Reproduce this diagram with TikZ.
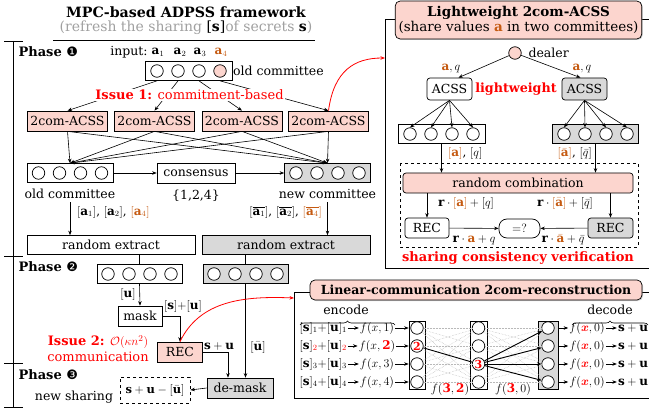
\documentclass[tikz,border=0pt]{standalone}
\usepackage{amsmath,amssymb,bm}
\usepackage{fontspec}
\setmainfont{DejaVu Serif}
\newfontfamily\djv{DejaVu Sans}
\usetikzlibrary{arrows.meta,calc,decorations.pathreplacing,shadows}
\definecolor{pk}{HTML}{FCD5CE}
\definecolor{gr}{HTML}{D9D9D9}
\definecolor{og}{HTML}{C55A11}
\definecolor{rd}{HTML}{FF0000}
\definecolor{tg}{HTML}{A0A0A0}
\newcommand\fsz[1]{\fontsize{#1}{#1}\selectfont}
\newcommand\mkcmt[6]{%
  \node[cbox, fill=#5, minimum width=#4] (#1) at (#2,#3) {};
  \foreach \k/\o in {1/-31.5,2/-10.5,3/10.5}{\node[cc] (#1c\k) at ($(#1.center)+(\o,0)$) {};}
  \node[cc, fill=#6] (#1c4) at ($(#1.center)+(31.5,0)$) {};
}
\tikzset{
 cbox/.style={draw, line width=0.7pt, rectangle, inner sep=0pt, minimum height=19pt},
 cc/.style={draw, circle, line width=0.7pt, minimum size=12.5pt, inner sep=0pt, fill=white},
 wbox/.style={draw, line width=0.7pt, fill=white, minimum height=20pt, inner sep=1pt},
 pbox/.style={wbox, fill=pk},
 gbox/.style={wbox, fill=gr},
 rbox/.style={wbox, rounded corners=3pt},
 arr/.style={-{Stealth[length=4.5pt,width=3.5pt]}, line width=0.6pt},
 redarr/.style={arr, draw=rd, line width=0.8pt},
 lab/.style={font=\fsz{12}, inner sep=1pt},
 phase/.style={anchor=west, font=\bfseries\fsz{13}},
 ttl/.style={draw, line width=0.7pt, fill=pk, rounded corners=5pt, drop shadow={shadow xshift=1pt, shadow yshift=-1pt, opacity=0.35}},
}
\begin{document}
\begin{tikzpicture}[x=1pt,y=-1pt,font=\fsz{12.5}]
\path[use as bounding box] (0,0) rectangle (649,412);
\clip (0,0) rectangle (649,412);
% ---------- left part ----------
\node[font=\bfseries\fsz{14.2}] (title) at (186,12) {MPC-based ADPSS framework};
\node[font=\fsz{14}] (subt) at (186,28) {{\color{tg}(refresh the sharing }[\textbf{s}]{\color{tg} of secrets }\textbf{s}{\color{tg})}};
\draw[line width=0.7pt] (53,40) -- (315,40);
\draw[line width=0.7pt] (13,41) -- (13,407);
\foreach \yy in {41,256,363,407} \draw[line width=0.7pt] (4,\yy) -- (23,\yy);
\node[phase] (ph1) at (15,52) {Phase {\normalfont\djv ❶}};
\node[phase] (ph2) at (15,267) {Phase {\normalfont\djv ❷}};
\node[phase] (ph3) at (15,375) {Phase {\normalfont\djv ❸}};
% input
\node (inp) at (129,52) {input:};
\node[lab] (a1) at (158,52) {$\mathbf{a}_1$};
\node[lab] (a2) at (180,52) {$\mathbf{a}_2$};
\node[lab] (a3) at (200,52) {$\mathbf{a}_3$};
\node[lab,text=og] (a4) at (221,52) {$\mathbf{a}_4$};
\mkcmt{otop}{188.5}{71}{87pt}{white}{pk}
\node[anchor=west, inner sep=1pt] (otoplab) at (232,71) {old committee};
% 2com-ACSS boxes
\node[pbox, minimum width=80pt] (b1) at (67.5,121) {2com-ACSS};
\node[pbox, minimum width=80pt] (b2) at (154.5,121) {2com-ACSS};
\node[pbox, minimum width=80pt] (b3) at (242,121) {2com-ACSS};
\node[pbox, minimum width=80pt] (b4) at (328.5,121) {2com-ACSS};
\foreach \i in {1,2,3,4} \draw[arr] (otop.south -| otopc\i) -- (b\i.north);
\node[fill=white, inner sep=1pt, text=rd, font=\fsz{13}] (iss1) at (189.5,95) {\textbf{Issue 1:} commitment-based};
% second row
\mkcmt{old}{70}{173}{86pt}{white}{white}
\mkcmt{new}{327.5}{173}{86pt}{gr}{white}
\node[wbox, minimum width=78pt] (cons) at (196,173) {consensus};
\foreach \i in {1,2,3,4} {\draw[arr] (b\i.south) -- (old.north); \draw[arr] (b\i.south) -- (new.north);}
\draw[arr] (old) -- (cons);
\draw[arr] (cons) -- (new);
\node (oldlab) at (70,194) {old committee};
\node (newlab) at (327.5,194) {new committee};
\node (set) at (196,196) {\{1,2,4\}};
% random extract
\node[wbox, minimum width=168pt, minimum height=19pt] (rex1) at (111,245) {random extract};
\node[gbox, minimum width=168pt, minimum height=19pt] (rex2) at (286,245) {random extract};
\draw[arr] (oldlab.south) -- (rex1.north -| oldlab);
\draw[arr] (newlab.south) -- (rex2.north -| newlab);
\node[lab, anchor=west] (la1) at (76,212) {$[\mathbf{a}_1]$, $[\mathbf{a}_2]$, \textcolor{og}{$[\mathbf{a}_4]$}};
\node[lab, anchor=east] (la2) at (323,212) {$[\overline{\mathbf{a}_1}]$, $[\overline{\mathbf{a}_2}]$, \textcolor{og}{$[\overline{\mathbf{a}_4}]$}};
% phase 2
\mkcmt{pl}{139.5}{274}{85pt}{white}{white}
\mkcmt{pr}{245.5}{274}{85pt}{gr}{white}
\draw[line width=0.6pt] (rex1.south -| pl) -- (pl.north);
\draw[line width=0.6pt] (rex2.south -| pr) -- (pr.north);
\node[wbox, minimum width=44pt] (mask) at (140,316) {mask};
\draw[arr] (pl.south) -- (mask.north);
\node[lab] (ul) at (128,294) {$[\mathbf{u}]$};
\node[pbox, minimum width=45pt] (rec) at (180,352) {REC};
\draw[arr] (mask.east) -| (rec.north);
\node[lab] (sul) at (183,306) {$[\mathbf{s}]{+}[\mathbf{u}]$};
\node[text=rd, align=center, font=\fsz{13}] (iss2) at (98,349) {\textbf{Issue 2:} $\mathcal{O}(\kappa n^2)$\\[3pt]communication};
\node[gbox, minimum width=66pt] (dm) at (240,388) {de-mask};
\draw[arr] (rec.east) -| ($(dm.north west)!0.32!(dm.north east)$);
\node[lab] (supu) at (219,346) {$\mathbf{s}+\mathbf{u}$};
\draw[arr] (pr.south) -- (dm.north -| pr);
\node[lab] (ubar) at (258,347) {$[\bar{\mathbf{u}}]$};
\node[draw, dashed, line width=0.7pt, minimum width=70pt, minimum height=26pt, font=\fsz{11.5}, inner sep=1pt] (ns) at (155,390) {$\mathbf{s}+\mathbf{u}-[\bar{\mathbf{u}}]$};
\draw[arr] (dm.west) -- (ns.east);
\node (nslab) at (74,397) {new sharing};
% ---------- top-right panel ----------
\draw[line width=0.7pt] (385,19) rectangle (660,268);
\coordinate (lwin) at (385,58);
\node[ttl, minimum width=243pt, minimum height=38pt, align=center, font=\fsz{13.5}] (lwt) at (518.5,20) {\textbf{Lightweight 2com-ACSS}\\[2pt](share values \textcolor{og}{\textbf{a}} in two committees)};
\draw[redarr] (b4.north) .. controls (334,70) and (355,58) .. (lwin);
\node[cc, fill=pk] (dealer) at (515,53) {};
\node[anchor=west] (dlab) at (525,53) {dealer};
\node[rbox, minimum width=45pt, minimum height=22pt] (acl) at (449.5,89) {ACSS};
\node[rbox, fill=gr, minimum width=45pt, minimum height=22pt] (acr) at (584.5,89) {ACSS};
\draw[arr] (dealer) -- ($(acl.north)+(9,0)$);
\draw[arr] (dealer) -- ($(acr.north)+(-4,0)$);
\node[lab] (aq1) at (451,68) {$\textcolor{og}{\mathbf{a}},q$};
\node[lab] (aq2) at (582,68) {$\textcolor{og}{\mathbf{a}},q$};
\node[text=rd, font=\bfseries\fsz{12.7}] (lwl) at (516,89) {lightweight};
\mkcmt{rl}{441.5}{134}{87pt}{white}{white}
\mkcmt{rr}{595.5}{134}{86pt}{gr}{white}
\foreach \i in {1,2,3,4} {\draw[arr] (acl.south) -- (rlc\i.north); \draw[arr] (acr.south) -- (rrc\i.north);}
\draw[dashed, line width=0.7pt] (400,163) rectangle (638,247);
\node[rbox, fill=pk, minimum width=230pt, minimum height=20pt] (rc) at (518,183) {random combination};
\draw[arr] (rl.south) -- (rc.north -| rl);
\draw[arr] (rr.south) -- (rc.north -| rr);
\node[lab, anchor=west] (laq) at (447,154) {\textcolor{og}{$[\mathbf{a}]$}, $[q]$};
\node[lab, anchor=east] (laqb) at (593,154) {\textcolor{og}{$[\bar{\mathbf{a}}]$}, $[\bar{q}]$};
\node[rbox, minimum width=44pt] (recl) at (427,228) {REC};
\node[rbox, rounded corners=8pt, minimum width=41pt, minimum height=19pt] (eq) at (519.5,228.5) {$=?$};
\node[rbox, fill=gr, minimum width=45pt] (recr) at (610.5,228) {REC};
\draw[arr] (rc.south -| recl) -- (recl.north);
\draw[arr] (rc.south -| recr) -- (recr.north);
\node[lab] (lc1) at (466,203) {$\mathbf{r}\cdot\textcolor{og}{[\mathbf{a}]}+[q]$};
\node[lab] (lc2) at (565,203) {$\mathbf{r}\cdot\textcolor{og}{[\bar{\mathbf{a}}]}+[\bar{q}]$};
\draw[arr] (recl) -- (eq);
\draw[arr] (recr) -- (eq);
\node[lab] (lr1) at (474,240) {$\mathbf{r}\cdot\textcolor{og}{\mathbf{a}}+q$};
\node[lab] (lr2) at (563,240) {$\mathbf{r}\cdot\textcolor{og}{\bar{\mathbf{a}}}+\bar{q}$};
\node[text=rd, font=\bfseries\fsz{13}] (scv) at (518,258) {sharing consistency verification};
% ---------- bottom-right panel ----------
\draw[line width=0.7pt] (294,292) rectangle (660,398);
\coordinate (linin) at (294,298);
\node[ttl, minimum width=332pt, minimum height=20pt, inner sep=1pt, font=\bfseries\fsz{12.5}] (lct) at (476,290) {Linear-communication 2com-reconstruction};
\draw[redarr] (rec.north) .. controls (200,300) and (245,296) .. (linin);
\node (enc) at (346,310) {encode};
\node (dec) at (610,310) {decode};
\draw[decorate, decoration={brace, amplitude=4pt}, line width=0.6pt] (300,325) -- (395,325);
\draw[decorate, decoration={brace, amplitude=4pt}, line width=0.6pt] (572,325) -- (648,325);
\node[cbox, minimum width=16pt, minimum height=68pt] (col1) at (417,355) {};
\node[cbox, minimum width=17pt, minimum height=68pt] (col2) at (478.5,355) {};
\node[cbox, fill=gr, minimum width=20pt, minimum height=68pt] (col3) at (548,355) {};
\foreach \i/\yy in {1/328,2/346,3/364,4/382} {
  \node[cc] (pa\i) at (417,\yy) {};
  \node[cc] (pb\i) at (478.5,\yy) {};
  \node[cc] (pc\i) at (548,\yy) {};
}
\foreach \i in {1,2,3,4} \foreach \j in {1,2,3,4} {
  \draw[gray!55, densely dotted, line width=0.5pt] (pa\i) -- (pb\j);
  \draw[gray!55, densely dotted, line width=0.5pt] (pb\i) -- (pc\j);
}
\node[text=rd, font=\bfseries\fsz{11}] (two) at (pa2) {2};
\node[text=rd, font=\bfseries\fsz{11}] (three) at (pb3) {3};
\draw[line width=0.9pt] (pa2) -- (pb3);
\foreach \j in {1,2,3,4} \draw[arr, line width=0.9pt] (pb3) -- (pc\j);
\foreach \i/\yy in {1/328,3/364,4/382} {
  \node[font=\fsz{12}, inner sep=1pt, anchor=east] (sv\i) at (348,\yy) {$[\mathbf{s}]_{\i}{+}[\mathbf{u}]_{\i}$};
  \node[font=\fsz{12}, inner sep=1pt] (fx\i) at (377,\yy) {$f(x,\i)$};
}
\node[font=\fsz{12}, inner sep=1pt, anchor=east] (sv2) at (348,346) {$[\mathbf{s}]_{\textcolor{rd}{2}}{+}[\mathbf{u}]_{\textcolor{rd}{2}}$};
\node[font=\fsz{12}, inner sep=1pt] (fx2) at (377,346) {$f(x,\textcolor{rd}{\mathbf{2}})$};
\foreach \i/\yy in {1/328,2/346,3/364,4/382} {
  \draw[arr] (sv\i) -- (fx\i);
  \draw[arr] (fx\i) -- (col1.west |- pa\i);
  \node[font=\fsz{12}, inner sep=1pt] (gx\i) at (587,\yy) {$f(\textcolor{rd}{\boldsymbol{x}},0)$};
  \node[font=\fsz{12}, inner sep=1pt] (out\i) at (633,\yy) {$\mathbf{s}+\mathbf{u}$};
  \draw[arr] (col3.east |- pc\i) -- (gx\i);
  \draw[arr] (gx\i) -- (out\i);
}
\node[font=\fsz{12}] (f32) at (450,389) {$f(\textcolor{rd}{\mathbf{3}},\textcolor{rd}{\mathbf{2}})$};
\node[font=\fsz{12}] (f30) at (513,389) {$f(\textcolor{rd}{\mathbf{3}},0)$};
\end{tikzpicture}
\end{document}
